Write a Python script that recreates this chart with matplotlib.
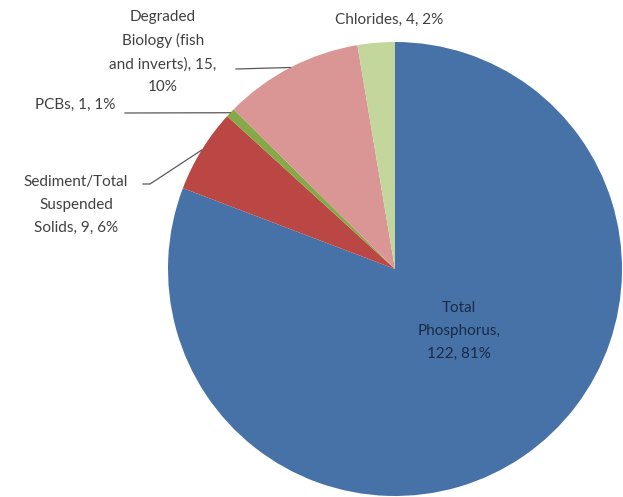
import numpy as np
import matplotlib.pyplot as plt

# Impairment causes, in clockwise order from 12 o'clock
causes = ['Total\nPhosphorus', 'Sediment/Total\nSuspended\nSolids', 'PCBs',
          'Degraded\nBiology (fish\nand inverts)', 'Chlorides']
counts = [122, 9, 1, 15, 4]
percents = [81, 6, 1, 10, 2]
colors = ['#4672A8', '#BB4744', '#86A846', '#D99694', '#C3D69B']

W, H = 623, 497
fig = plt.figure(figsize=(W / 100, H / 100), dpi=100)
ax = fig.add_axes([0, 0, 1, 1])

cx, cy, r = 395, H - 269, 227
wedges, _ = ax.pie(counts, colors=colors, startangle=90, counterclock=False,
                   center=(cx, cy), radius=r, frame=True,
                   wedgeprops=dict(linewidth=0))
ax.set_xlim(0, W)
ax.set_ylim(0, H)
ax.set_aspect('equal')
ax.axis('off')

font = dict(family=['Lato', 'DejaVu Sans'], fontsize=11, linespacing=1.8)
texts = [f'{c}, {n}, {p}%' for c, n, p in zip(causes, counts, percents)]
texts[0] = 'Total\nPhosphorus,\n122, 81%'
texts[3] = 'Degraded\nBiology (fish\nand inverts), 15,\n10%'

# label anchor points (pixels from top-left)
label_pos = [(459, 331), (76, 205), (75, 105), (163, 52), (389, 20)]
for i, (txt, (lx, ly)) in enumerate(zip(texts, label_pos)):
    col = '#1B2A45' if i == 0 else '#404040'
    ax.text(lx, H - ly, txt, ha='center', va='center', color=col, **font)

# leader lines from label end to wedge edge
def edge(w):
    a = np.deg2rad((w.theta1 + w.theta2) / 2)
    return cx + r * np.cos(a), cy + r * np.sin(a)

ex, ey = edge(wedges[1])
ax.plot([143, 150, ex], [H - 184, H - 184, ey], color='#595959', lw=0.9)
ex, ey = edge(wedges[2])
ax.plot([125, ex], [H - 113, ey], color='#595959', lw=0.9)
ex, ey = edge(wedges[3])
ax.plot([236, ex], [H - 69, ey], color='#595959', lw=0.9)

fig.savefig('out.png', dpi=100, facecolor='white')
